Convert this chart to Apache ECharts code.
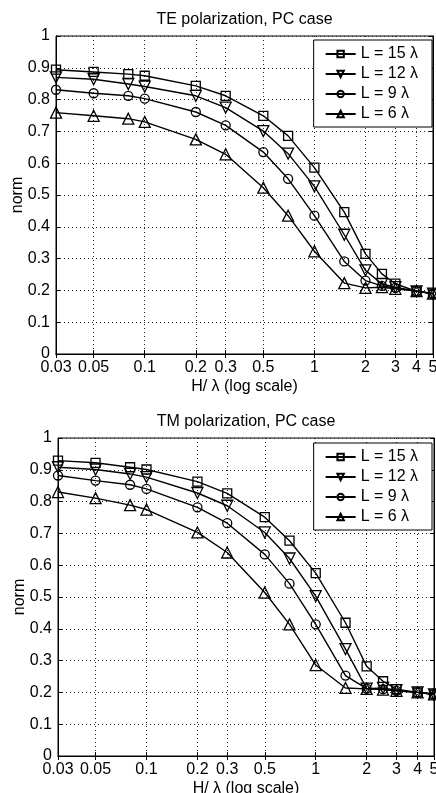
<!DOCTYPE html>
<html>
<head>
<meta charset="utf-8">
<script src="https://cdn.jsdelivr.net/npm/echarts@6/dist/echarts.min.js"></script>
<style>
html, body { margin: 0; padding: 0; background: #fff; }
#chart { width: 436px; height: 793px; }
</style>
</head>
<body>
<div id="chart"></div>
<script>
// H/lambda sample positions (log axis)
var hOverLambda = [0.03, 0.05, 0.08, 0.1, 0.2, 0.3, 0.5, 0.7, 1, 1.5, 2, 2.5, 3, 4, 5];
var xTicks = [0.03, 0.05, 0.1, 0.2, 0.3, 0.5, 1, 2, 3, 4, 5];
var seriesNames = ['L = 15 λ', 'L = 12 λ', 'L = 9 λ', 'L = 6 λ'];
var titles = ['TE polarization, PC case', 'TM polarization, PC case'];

// TE polarization
var teL15 = [0.894, 0.887, 0.880, 0.875, 0.843, 0.812, 0.749, 0.686, 0.586, 0.446, 0.315, 0.252, 0.221, 0.197, 0.190];
var teL12 = [0.870, 0.864, 0.849, 0.841, 0.812, 0.775, 0.701, 0.630, 0.527, 0.375, 0.263, 0.220, 0.210, 0.197, 0.190];
var teL9  = [0.831, 0.820, 0.812, 0.803, 0.761, 0.719, 0.635, 0.551, 0.435, 0.291, 0.231, 0.214, 0.208, 0.198, 0.190];
var teL6  = [0.759, 0.749, 0.740, 0.730, 0.675, 0.628, 0.523, 0.435, 0.323, 0.223, 0.208, 0.210, 0.205, 0.198, 0.190];

// TM polarization
var tmL15 = [0.929, 0.922, 0.908, 0.901, 0.863, 0.826, 0.751, 0.677, 0.575, 0.419, 0.282, 0.235, 0.210, 0.200, 0.194];
var tmL12 = [0.908, 0.901, 0.887, 0.877, 0.827, 0.787, 0.703, 0.621, 0.503, 0.336, 0.212, 0.214, 0.207, 0.200, 0.194];
var tmL9  = [0.882, 0.866, 0.853, 0.840, 0.782, 0.732, 0.634, 0.542, 0.414, 0.253, 0.212, 0.210, 0.205, 0.200, 0.194];
var tmL6  = [0.830, 0.811, 0.789, 0.775, 0.703, 0.640, 0.514, 0.414, 0.286, 0.214, 0.211, 0.209, 0.205, 0.200, 0.194];

var chartData = [[teL15, teL12, teL9, teL6], [tmL15, tmL12, tmL9, tmL6]];

var font = 'Liberation Sans, Arial, Helvetica, sans-serif';
var markers = ['rect', 'path://M0,0L10,0L5,9Z', 'circle', 'triangle'];
var markerSizes = [9, 11, 9, 11];
var gridPos = [
    { left: 56, top: 36, width: 377, height: 318 },
    { left: 58, top: 438, width: 376, height: 318 }
];
var legendTop = [40, 443];

function pairs(ys) {
    return ys.map(function (y, i) { return [hOverLambda[i], y]; });
}

var dotted = { color: '#222', type: [1, 3], width: 1 };
var grids = [], xAxes = [], yAxes = [], titleList = [], legends = [], series = [];

for (var c = 0; c < 2; c++) {
    grids.push({
        left: gridPos[c].left, top: gridPos[c].top,
        width: gridPos[c].width, height: gridPos[c].height,
        show: true, borderColor: '#000', borderWidth: 1,
        containLabel: false, outerBoundsMode: 'none'
    });
    titleList.push({
        text: titles[c],
        left: gridPos[c].left + gridPos[c].width / 2,
        top: gridPos[c].top - 24,
        textAlign: 'center',
        padding: 0,
        textStyle: { fontSize: 16, fontWeight: 'normal', color: '#000', fontFamily: font }
    });
    xAxes.push({
        gridIndex: c, type: 'log', logBase: 10, min: 0.03, max: 5,
        name: 'H/ λ (log scale)', nameLocation: 'middle', nameGap: 25, nameMoveOverlap: false,
        nameTextStyle: { fontSize: 16, color: '#000', fontFamily: font },
        axisLine: { show: true, lineStyle: { color: '#000', width: 1 } },
        axisTick: { show: true, inside: true, length: 4, customValues: xTicks, lineStyle: { color: '#000' } },
        axisLabel: {
            customValues: xTicks, margin: 6, fontSize: 16, color: '#000', fontFamily: font,
            formatter: function (v) { return String(+(+v).toPrecision(3)); }
        },
        splitLine: { show: true, lineStyle: dotted }
    });
    yAxes.push({
        gridIndex: c, type: 'value', min: 0, max: 1, interval: 0.1,
        name: 'norm', nameLocation: 'middle', nameGap: 30, nameMoveOverlap: false,
        nameTextStyle: { fontSize: 16, color: '#000', fontFamily: font },
        axisLine: { show: true, lineStyle: { color: '#000', width: 1 } },
        axisTick: { show: true, inside: true, length: 4, lineStyle: { color: '#000' } },
        axisLabel: { margin: 6, fontSize: 16, color: '#000', fontFamily: font },
        splitLine: { show: true, lineStyle: dotted }
    });
    legends.push({
        data: seriesNames,
        orient: 'vertical',
        right: 4, top: legendTop[c],
        backgroundColor: '#fff', borderColor: '#000', borderWidth: 1, borderRadius: 0,
        padding: [6, 14, 5, 11],
        itemWidth: 30, itemHeight: 8, itemGap: 4,
        textStyle: { fontSize: 16, lineHeight: 16, color: '#000', fontFamily: font }
    });
}

// MATLAB style box ticks on top and right
for (var c2 = 0; c2 < 2; c2++) {
    xAxes.push({
        gridIndex: c2, type: 'log', logBase: 10, min: 0.03, max: 5, position: 'top',
        axisLine: { show: true, lineStyle: { color: '#000', width: 1 } },
        axisTick: { show: true, inside: true, length: 4, customValues: xTicks, lineStyle: { color: '#000' } },
        axisLabel: { show: false },
        splitLine: { show: false }
    });
    yAxes.push({
        gridIndex: c2, type: 'value', min: 0, max: 1, interval: 0.1, position: 'right',
        axisLine: { show: true, lineStyle: { color: '#000', width: 1 } },
        axisTick: { show: true, inside: true, length: 4, lineStyle: { color: '#000' } },
        axisLabel: { show: false },
        splitLine: { show: false }
    });
}

for (var g = 0; g < 2; g++) {
    for (var s = 0; s < 4; s++) {
        series.push({
            type: 'line',
            name: seriesNames[s],
            xAxisIndex: g, yAxisIndex: g,
            data: pairs(chartData[g][s]),
            symbol: markers[s],
            symbolSize: markerSizes[s],
            showSymbol: true,
            lineStyle: { color: '#000', width: 1.4 },
            itemStyle: { color: 'rgba(255,255,255,0)', borderColor: '#000', borderWidth: 1.3 },
            emphasis: { disabled: true },
            z: 3
        });
    }
}

var chart = echarts.init(document.getElementById('chart'));
chart.setOption({
    animation: false,
    backgroundColor: '#fff',
    title: titleList,
    grid: grids,
    xAxis: xAxes,
    yAxis: yAxes,
    legend: legends,
    series: series
});
</script>
</body>
</html>
